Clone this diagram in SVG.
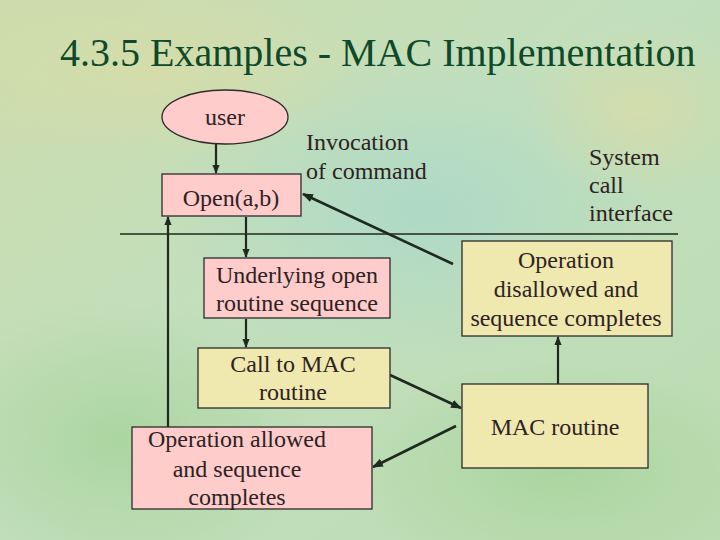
<svg xmlns="http://www.w3.org/2000/svg" width="720" height="540" viewBox="0 0 720 540">
  <defs>
    <linearGradient id="bg" x1="0" y1="0" x2="1" y2="1">
      <stop offset="0" stop-color="#cddcac"/>
      <stop offset="0.45" stop-color="#c2dfbd"/>
      <stop offset="1" stop-color="#bcdcb2"/>
    </linearGradient>
    <radialGradient id="blob1" cx="0.5" cy="0.5" r="0.5">
      <stop offset="0" stop-color="#aad8c8" stop-opacity="0.8"/>
      <stop offset="1" stop-color="#aad8c8" stop-opacity="0"/>
    </radialGradient>
    <radialGradient id="blob2" cx="0.5" cy="0.5" r="0.5">
      <stop offset="0" stop-color="#a6d39a" stop-opacity="0.8"/>
      <stop offset="1" stop-color="#a6d39a" stop-opacity="0"/>
    </radialGradient>
    <radialGradient id="blob3" cx="0.5" cy="0.5" r="0.5">
      <stop offset="0" stop-color="#d8dca8" stop-opacity="0.8"/>
      <stop offset="1" stop-color="#d8dca8" stop-opacity="0"/>
    </radialGradient>
    <marker id="ah" viewBox="0 0 10 10" refX="9" refY="5" markerWidth="4.2" markerHeight="4.2" orient="auto" markerUnits="strokeWidth">
      <path d="M0,1 L10,5 L0,9 z" fill="#1f2a1f"/>
    </marker>
    <style>
      .t { fill: #2e2222; font-size: 24px; }
      .c { text-anchor: middle; }
      .pink { fill: #ffcccc; stroke: #2b2b2b; stroke-width: 1.3; }
      .yel { fill: #efe9b0; stroke: #2b2b2b; stroke-width: 1.3; }
      .ln { stroke: #1f2a1f; stroke-width: 1.5; fill: none; }
      .ar { stroke: #1f2a1f; stroke-width: 2.6; fill: none; marker-end: url(#ah); }
      .av { stroke: #1f2a1f; stroke-width: 2.2; fill: none; marker-end: url(#ah); }
    </style>
  </defs>

  <rect width="720" height="540" fill="url(#bg)"/>
  <ellipse cx="420" cy="210" rx="260" ry="160" fill="url(#blob1)"/>
  <ellipse cx="120" cy="440" rx="200" ry="140" fill="url(#blob2)"/>
  <ellipse cx="560" cy="470" rx="220" ry="110" fill="url(#blob2)"/>
  <ellipse cx="150" cy="70" rx="230" ry="90" fill="url(#blob3)"/>
  <ellipse cx="640" cy="110" rx="120" ry="90" fill="url(#blob3)"/>

  <g font-family="Liberation Serif, Times New Roman, serif">
  <text id="title" x="60" y="66" font-size="40" fill="#0e4a2a">4.3.5 Examples - MAC Implementation</text>

  <g id="labels">
    <text class="t" x="306" y="150">Invocation</text>
    <text class="t" x="306" y="179">of command</text>
    <text class="t" x="589" y="165">System</text>
    <text class="t" x="589" y="193">call</text>
    <text class="t" x="589" y="221">interface</text>
  </g>

  <g id="connectors">
    <line class="ln" x1="120" y1="234" x2="678" y2="234"/>
    <line class="av" x1="216" y1="144" x2="216" y2="173"/>
    <line class="av" x1="246" y1="217" x2="246" y2="257"/>
    <line class="av" x1="246" y1="319" x2="246" y2="347"/>
    <line class="av" x1="168" y1="427" x2="168" y2="217"/>
    <line class="ar" x1="453" y1="264" x2="303" y2="194"/>
    <line class="ar" x1="390" y1="375" x2="461" y2="408"/>
    <line class="ar" x1="456" y1="426" x2="373" y2="467"/>
    <line class="av" x1="558" y1="384" x2="558" y2="337"/>
  </g>

  <g id="user">
    <ellipse class="pink" cx="225" cy="117" rx="63" ry="27"/>
    <text class="t c" x="225" y="125">user</text>
  </g>

  <g id="open">
    <rect class="pink" x="162" y="174" width="139" height="42"/>
    <text class="t c" x="231" y="206">Open(a,b)</text>
  </g>

  <g id="underlying">
    <rect class="pink" x="204" y="258" width="186" height="60"/>
    <text class="t c" x="297" y="283">Underlying open</text>
    <text class="t c" x="297" y="311">routine sequence</text>
  </g>

  <g id="callmac">
    <rect class="yel" x="198" y="348" width="192" height="60"/>
    <text class="t c" x="293" y="372">Call to MAC</text>
    <text class="t c" x="293" y="400">routine</text>
  </g>

  <g id="allowed">
    <rect class="pink" x="132" y="427" width="240" height="82"/>
    <text class="t c" x="237" y="447">Operation allowed</text>
    <text class="t c" x="237" y="477">and sequence</text>
    <text class="t c" x="237" y="505">completes</text>
  </g>

  <g id="disallowed">
    <rect class="yel" x="462" y="241" width="210" height="95"/>
    <text class="t c" x="566" y="268">Operation</text>
    <text class="t c" x="566" y="297">disallowed and</text>
    <text class="t c" x="566" y="326">sequence completes</text>
  </g>

  <g id="macroutine">
    <rect class="yel" x="462" y="384" width="186" height="84"/>
    <text class="t c" x="555" y="435">MAC routine</text>
  </g>
  </g>
</svg>
